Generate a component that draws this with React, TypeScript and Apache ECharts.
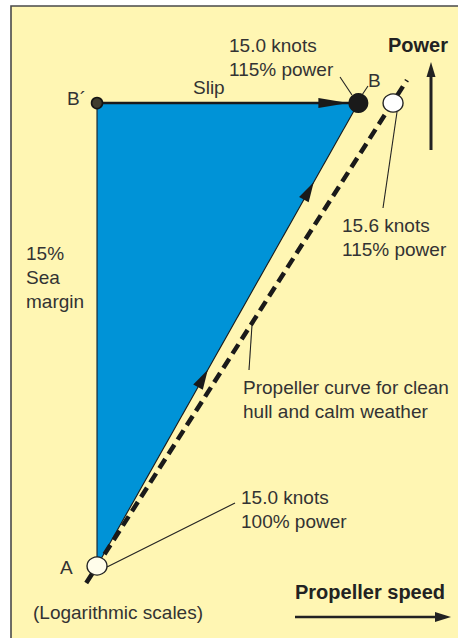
import React, { useEffect, useRef } from "react";
import * as echarts from "echarts";

// Operating points (logarithmic scales): propeller speed and power, % of point A
const pointNames = ["A", "B´", "B", "C"];
const speedPct = [100, 100, 104.2, 104.77];
const powerPct = [100, 115, 115, 115];

// Propeller curve for clean hull and calm weather (straight line on log-log scales)
const curveSpeedPct = [99.83, 105.0];
const curvePowerPct = [99.49, 115.8];

// Axis ranges (hidden log axes)
const speedRange = [98.655, 105.83];
const powerRange = [97.88, 118.42];

const BLUE = "#0093D7";
const YELLOW = "#FFF6B3";
const INK = "#333333";
const FONT = '"Liberation Sans", Arial, Helvetica, sans-serif';

const pt = (i: number) => [speedPct[i], powerPct[i]];

function arrowHead(tip: number[], from: number[], len: number, halfW: number) {
  const dx = tip[0] - from[0];
  const dy = tip[1] - from[1];
  const d = Math.hypot(dx, dy) || 1;
  const ux = dx / d, uy = dy / d;
  const bx = tip[0] - ux * len, by = tip[1] - uy * len;
  return [
    [tip[0], tip[1]],
    [bx - uy * halfW, by + ux * halfW],
    [bx + uy * halfW, by - ux * halfW],
  ];
}

function txt(text: string, x: number, y: number, opts: any = {}) {
  return {
    type: "text",
    x,
    y,
    silent: true,
    z: 20,
    style: {
      text,
      fill: opts.bold ? "#222" : INK,
      fontSize: opts.size || 19,
      fontWeight: opts.bold ? "bold" : "normal",
      fontFamily: FONT,
      lineHeight: 24,
      align: "left",
      verticalAlign: opts.va || "middle",
    },
  };
}

function seg(x1: number, y1: number, x2: number, y2: number, w = 1.1) {
  return {
    type: "line",
    silent: true,
    z: 20,
    shape: { x1, y1, x2, y2 },
    style: { stroke: "#222", lineWidth: w },
  };
}

export default function App() {
  const ref = useRef<HTMLDivElement>(null);
  useEffect(() => {
    if (!ref.current) return;
    const chart = echarts.init(ref.current, null, { renderer: "svg" });
    const option: any = {
      animation: false,
      backgroundColor: "#ffffff",
      grid: { left: 11, top: 6, width: 446, height: 631, show: false },
      xAxis: { type: "log", min: speedRange[0], max: speedRange[1], show: false },
      yAxis: { type: "log", min: powerRange[0], max: powerRange[1], show: false },
      graphic: [
        {
          type: "rect",
          z: -10,
          silent: true,
          shape: { x: 11, y: 6, width: 460, height: 640 },
          style: { fill: YELLOW, stroke: "#4a4a4a", lineWidth: 1.6 },
        },
        txt("15.0 knots\n115% power", 229, 33.4, { va: "top" }),
        txt("B", 368, 80.4),
        txt("B´", 67, 98),
        txt("Slip", 193, 87.5),
        txt("Power", 388, 45.3, { bold: true, size: 20 }),
        txt("15.6 knots\n115% power", 342, 213.4, { va: "top" }),
        txt("15%\nSea\nmargin", 26, 241.4, { va: "top" }),
        txt("Propeller curve for clean\nhull and calm weather", 243, 375.4, { va: "top" }),
        txt("15.0 knots\n100% power", 241, 485.4, { va: "top" }),
        txt("A", 60, 567),
        txt("Propeller speed", 295, 592, { bold: true, size: 20 }),
        txt("(Logarithmic scales)", 33, 612),
        // leader lines
        seg(340, 77, 352, 95),
        seg(368, 86, 362, 95),
        seg(397, 112, 383, 208),
        seg(249, 370, 252, 325),
        seg(107, 567, 235, 503),
        // Power arrow
        seg(431, 150, 431, 74, 3),
        {
          type: "polygon",
          silent: true,
          z: 20,
          shape: { points: [[431, 62], [426.5, 77], [435.5, 77]] },
          style: { fill: "#222" },
        },
        // Propeller speed arrow
        seg(295, 617, 438, 617, 2.6),
        {
          type: "polygon",
          silent: true,
          z: 20,
          shape: { points: [[451, 617], [435, 612], [435, 622]] },
          style: { fill: "#222" },
        },
      ],
      series: [
        {
          name: "Sea margin",
          type: "custom",
          coordinateSystem: "cartesian2d",
          clip: false,
          silent: true,
          z: 1,
          data: [pt(0), pt(1), pt(2)],
          renderItem: (params: any, api: any) => {
            if (params.dataIndex !== 0) return null;
            const pts = [pt(0), pt(1), pt(2)].map((p) => api.coord(p));
            return { type: "polygon", shape: { points: pts }, style: { fill: BLUE } };
          },
        },
        {
          name: "Propeller curve",
          type: "line",
          symbol: "none",
          silent: true,
          z: 3,
          data: curveSpeedPct.map((s, i) => [s, curvePowerPct[i]]),
          lineStyle: { color: "#1a1a1a", width: 4.5, type: [11, 6], cap: "butt" },
        },
        {
          name: "Sea margin edge",
          type: "line",
          symbol: "none",
          silent: true,
          z: 4,
          data: [pt(0), pt(1)],
          lineStyle: { color: "#1d2b33", width: 1.2 },
        },
        {
          name: "Slip",
          type: "line",
          symbol: "none",
          silent: true,
          z: 4,
          data: [pt(1), pt(2)],
          lineStyle: { color: "#1a1a1a", width: 2.6 },
        },
        {
          name: "Heavy running",
          type: "line",
          symbol: "none",
          silent: true,
          z: 4,
          data: [pt(0), pt(2)],
          lineStyle: { color: "#1a1a1a", width: 1.1 },
        },
        {
          name: "Arrows",
          type: "custom",
          coordinateSystem: "cartesian2d",
          clip: false,
          silent: true,
          z: 5,
          data: [pt(2)],
          renderItem: (params: any, api: any) => {
            const a = api.coord(pt(0));
            const bp = api.coord(pt(1));
            const b = api.coord(pt(2));
            const sd = Math.hypot(b[0] - bp[0], b[1] - bp[1]);
            const slipTip = [b[0] - ((b[0] - bp[0]) / sd) * 10, b[1] - ((b[1] - bp[1]) / sd) * 10];
            const along = (t: number) => [a[0] + (b[0] - a[0]) * t, a[1] + (b[1] - a[1]) * t];
            return {
              type: "group",
              children: [
                { type: "polygon", shape: { points: arrowHead(slipTip, bp, 30, 5) }, style: { fill: "#1a1a1a" } },
                { type: "polygon", shape: { points: arrowHead(along(0.424), a, 20, 5.5) }, style: { fill: "#1a1a1a" } },
                { type: "polygon", shape: { points: arrowHead(along(0.829), a, 20, 5.5) }, style: { fill: "#1a1a1a" } },
              ],
            };
          },
        },
        {
          name: "Points",
          type: "scatter",
          silent: true,
          z: 6,
          data: pointNames.map((n, i) => {
            const base: any = { name: n, value: pt(i) };
            if (n === "A") {
              base.symbolSize = [20, 18];
              base.itemStyle = { color: "#FFFDEB", borderColor: "#222", borderWidth: 1.3, opacity: 1 };
            } else if (n === "B´") {
              base.symbolSize = 11;
              base.itemStyle = { color: "#3f3c2e", borderColor: "#151515", borderWidth: 1.6, opacity: 1 };
            } else if (n === "B") {
              base.symbolSize = 20;
              base.itemStyle = { color: "#1a1a1a", borderColor: "#1a1a1a", borderWidth: 0, opacity: 1 };
            } else {
              base.symbolSize = [20, 18];
              base.itemStyle = { color: "#FFFFFF", borderColor: "#222", borderWidth: 1.3, opacity: 1 };
            }
            return base;
          }),
        },
      ],
    };
    chart.setOption(option);
    return () => chart.dispose();
  }, []);
  return (
    <div
      ref={ref}
      style={{ position: "absolute", left: 0, top: 0, width: 458, height: 638 }}
    />
  );
}
